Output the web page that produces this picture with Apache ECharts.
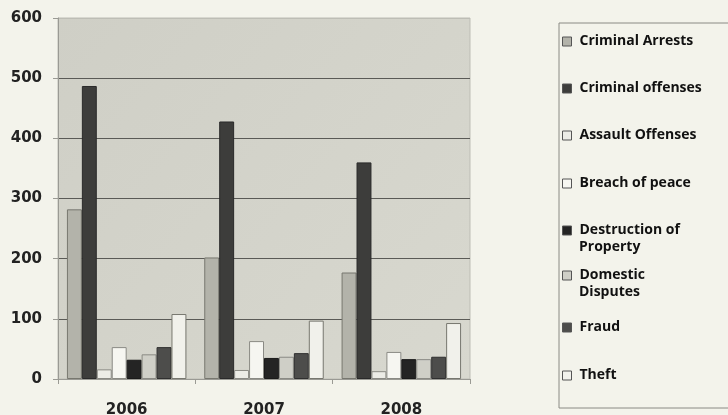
<!DOCTYPE html>
<html>
<head>
<meta charset="utf-8">
<script src="https://cdn.jsdelivr.net/npm/echarts@6/dist/echarts.min.js"></script>
<style>
  html, body { margin: 0; padding: 0; background: #f3f3eb; }
  #chart { width: 728px; height: 415px; }
</style>
</head>
<body>
<div id="chart"></div>
<script>
// Incident counts per year
const years = ['2006', '2007', '2008'];
const seriesNames = [
  'Criminal Arrests', 'Criminal offenses', 'Assault Offenses', 'Breach of peace',
  'Destruction of Property', 'Domestic Disputes', 'Fraud', 'Theft'
];
const criminalArrests   = [282, 202, 177];
const criminalOffenses  = [487, 428, 360];
const assaultOffenses   = [16, 15, 13];
const breachOfPeace     = [53, 63, 45];
const destruction       = [32, 35, 33];
const domesticDisputes  = [41, 37, 33];
const fraud             = [53, 43, 37];
const theft             = [108, 97, 93];
const yTicks = [0, 100, 200, 300, 400, 500, 600];

const values = [criminalArrests, criminalOffenses, assaultOffenses, breachOfPeace,
                destruction, domesticDisputes, fraud, theft];

// Fill / edge per series
const fills = ['#b3b3aa', '#3d3d3b', '#ecece6', '#f6f6f1', '#242424', '#cfcfc7', '#4d4d4b', '#f1f1eb'];
const edges = ['#77776f', '#2a2a2a', '#8a8a84', '#8a8a84', '#1a1a1a', '#8a8a84', '#2f2f2f', '#77776f'];

// Key labels: first line beside the swatch, continuation line underneath
const legendFirstLine = {
  'Destruction of Property': 'Destruction of',
  'Domestic Disputes': 'Domestic'
};
const legendSecondLine = {
  'Destruction of Property': 'Property',
  'Domestic Disputes': 'Disputes'
};
const legendTops = [28, 75, 122, 170, 217, 262, 314, 362];

const keyFont = {
  fontFamily: 'Open Sans',
  fontWeight: 'bold',
  fontSize: 14,
  color: '#111'
};

const chart = echarts.init(document.getElementById('chart'));

const series = seriesNames.map((name, i) => ({
  name: name,
  type: 'bar',
  data: values[i],
  barGap: '0%',
  barCategoryGap: '13%',
  itemStyle: { color: fills[i], borderColor: edges[i], borderWidth: 1 },
  emphasis: { disabled: true }
}));

const legends = seriesNames.map((name, i) => ({
  left: 557,
  top: legendTops[i],
  orient: 'vertical',
  data: [{ name: name, itemStyle: { color: fills[i], borderColor: '#555', borderWidth: 1 } }],
  icon: 'rect',
  itemWidth: 9,
  itemHeight: 9,
  itemGap: 0,
  selectedMode: false,
  formatter: n => legendFirstLine[n] || n,
  textStyle: Object.assign({ lineHeight: 17, padding: [0, 0, 0, 3] }, keyFont)
}));

const graphics = [{
  type: 'rect',
  shape: { x: 559, y: 23, width: 180, height: 385 },
  style: { fill: 'none', stroke: '#8a8a84', lineWidth: 1 },
  silent: true
}];
seriesNames.forEach((name, i) => {
  if (legendSecondLine[name]) {
    graphics.push({
      type: 'text',
      left: 579,
      top: legendTops[i] + 23,
      style: { text: legendSecondLine[name], fill: '#111', font: 'bold 14px "Open Sans"' },
      silent: true
    });
  }
});

chart.setOption({
  backgroundColor: '#f3f3eb',
  animation: false,
  grid: {
    left: 58, right: 258, top: 18, bottom: 36,
    outerBoundsMode: 'none',
    show: true,
    backgroundColor: {
      type: 'linear', x: 0, y: 0, x2: 1, y2: 1,
      colorStops: [
        { offset: 0, color: '#cfcfc6' },
        { offset: 1, color: '#d8d8cf' }
      ]
    },
    borderColor: '#bdbdb5',
    borderWidth: 1
  },
  legend: legends,
  graphic: graphics,
  xAxis: {
    type: 'category',
    data: years,
    axisLine: { lineStyle: { color: '#9a9a94' } },
    axisTick: { show: true, length: 5, lineStyle: { color: '#9a9a94' } },
    axisLabel: {
      margin: 24,
      fontFamily: 'DejaVu Sans',
      fontWeight: 'bold',
      fontSize: 15,
      color: '#222'
    }
  },
  yAxis: {
    type: 'value',
    min: yTicks[0],
    max: yTicks[yTicks.length - 1],
    interval: 100,
    axisLine: { show: true, lineStyle: { color: '#9a9a94' } },
    axisTick: { show: true, length: 5, lineStyle: { color: '#9a9a94' } },
    splitLine: {
      lineStyle: {
        color: ['#5a5a56', '#5a5a56', '#5a5a56', '#5a5a56', '#5a5a56', '#5a5a56', '#bdbdb5'],
        width: 1
      }
    },
    axisLabel: {
      margin: 16,
      fontFamily: 'DejaVu Sans',
      fontWeight: 'bold',
      fontSize: 15,
      color: '#222'
    }
  },
  series: series
});
</script>
</body>
</html>
